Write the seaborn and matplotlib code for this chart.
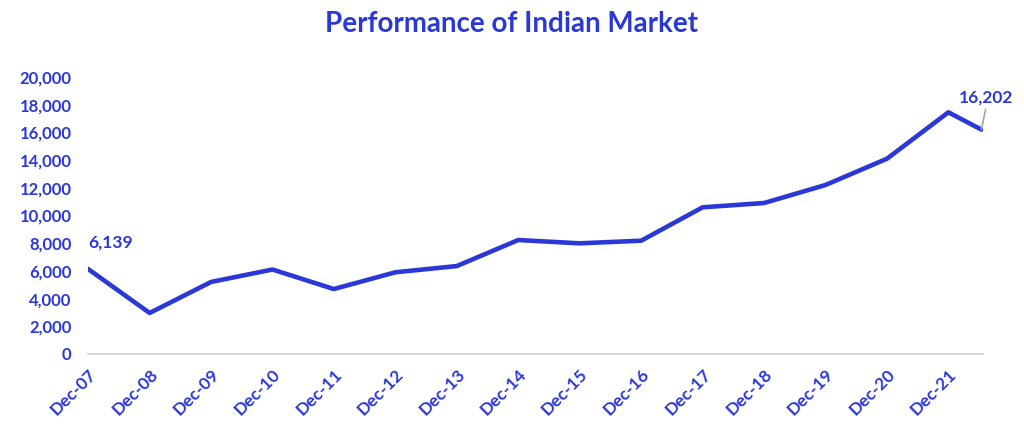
import pandas as pd
import matplotlib.pyplot as plt
import matplotlib.dates as mdates
import matplotlib.ticker as mticker
import seaborn as sns

# -------------------------------
# Data
# -------------------------------
dates = ["2007-12-31", "2008-12-31", "2009-12-31", "2010-12-31", "2011-12-31",
         "2012-12-31", "2013-12-31", "2014-12-31", "2015-12-31", "2016-12-31",
         "2017-12-31", "2018-12-31", "2019-12-31", "2020-12-31", "2021-12-31",
         "2022-07-15"]
values = [6139, 2960, 5200, 6100, 4690, 5900, 6350, 8230, 7990, 8180,
          10590, 10900, 12200, 14100, 17450, 16202]
tick_dates = dates[:-1]

df = pd.DataFrame({"Date": pd.to_datetime(dates), "Value": values})

BLUE = "#2B38D8"
sns.set_style("white")
plt.rcParams['font.family'] = ['Lato', 'DejaVu Sans']

fig = plt.figure(figsize=(10.24, 4.45), dpi=100)
ax = fig.add_axes([0.086, 0.2045, 0.874, 0.6225])

sns.lineplot(data=df, x="Date", y="Value", color=BLUE, linewidth=3.3, ax=ax)

ax.set_ylim(0, 20000)
ax.set_xlim(df["Date"].iloc[0], pd.Timestamp("2022-07-25"))
ax.yaxis.set_major_locator(mticker.MultipleLocator(2000))
ax.yaxis.set_major_formatter(mticker.StrMethodFormatter("{x:,.0f}"))

ax.set_xticks(pd.to_datetime(tick_dates))
ax.xaxis.set_major_formatter(mdates.DateFormatter("%b-%y"))

for side in ["top", "right", "left"]:
    ax.spines[side].set_visible(False)
ax.spines["bottom"].set_color("#d9d9d9")
ax.spines["bottom"].set_linewidth(1.5)

ax.tick_params(axis="x", colors="#d9d9d9", length=5, width=1.5, labelcolor=BLUE)
ax.tick_params(axis="y", length=0, labelcolor=BLUE, pad=12)
for lbl in ax.get_xticklabels():
    lbl.set_rotation(45)
    lbl.set_ha("right")
    lbl.set_rotation_mode("anchor")
    lbl.set_fontsize(12.5)
    lbl.set_fontweight("bold")
for lbl in ax.get_yticklabels():
    lbl.set_fontsize(12)
    lbl.set_fontweight("bold")

ax.set_xlabel("")
ax.set_ylabel("")

# Data labels for first and last points
ax.annotate(f"{values[0]:,}", xy=(df["Date"].iloc[0], values[0]),
            xytext=(0, 13), textcoords="offset points", color=BLUE,
            fontsize=12.5, fontweight="bold", ha="left", va="bottom")
ax.annotate(f"{values[-1]:,}", xy=(df["Date"].iloc[-1], values[-1]),
            xytext=(-16, 17), textcoords="offset points", color=BLUE,
            fontsize=12.5, fontweight="bold", ha="left", va="bottom",
            arrowprops=dict(arrowstyle="-", color="#a6a6a6", lw=1.2,
                            shrinkA=0, shrinkB=0, relpos=(0.5, 0)))

fig.suptitle("Performance of Indian Market", color=BLUE, fontsize=20,
             fontweight="bold", y=0.975)

fig.savefig("out.png", dpi=100, facecolor="white")
